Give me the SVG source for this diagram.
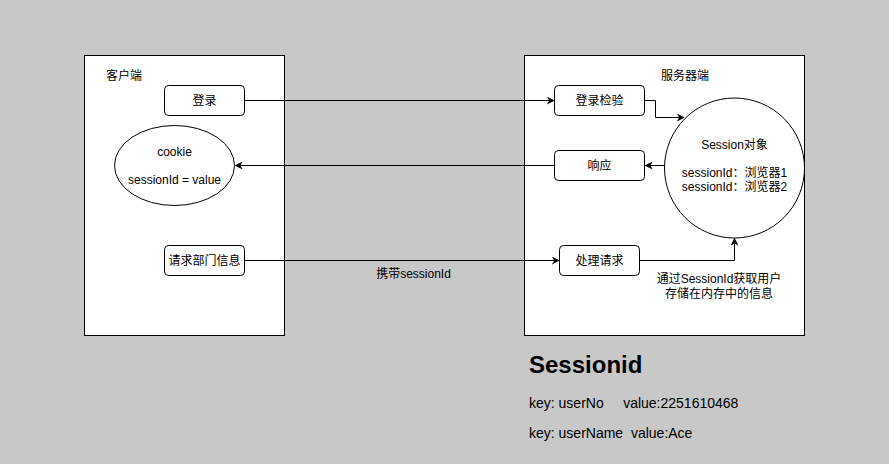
<svg xmlns="http://www.w3.org/2000/svg" width="889" height="464" viewBox="0 0 889 464">
<defs>
<marker id="arr" viewBox="0 0 10 10" refX="9" refY="5" markerWidth="8" markerHeight="8" markerUnits="userSpaceOnUse" orient="auto">
<path d="M0,0 L10,5 L0,10 L3,5 Z" fill="#000"/>
</marker>
<style>
.t{font-family:"Liberation Sans","Noto Sans CJK SC",Arial,sans-serif;font-size:12px;fill:#000}
.c{text-anchor:middle}
.box{fill:#fff;stroke:#000;stroke-width:1}
.e{fill:none;stroke:#000;stroke-width:1;marker-end:url(#arr)}
.k{font-family:"Liberation Sans",Arial,sans-serif;font-size:14px;fill:#000;white-space:pre}
</style>
</defs>
<rect x="0" y="0" width="889" height="464" fill="#c8c8c8"/>
<g id="client">
<rect class="box" x="84.5" y="55.5" width="200" height="280"/>
<text class="t" x="106" y="80">客户端</text>
</g>
<g id="server">
<rect class="box" x="524.5" y="55.5" width="280" height="280"/>
<text class="t c" x="685" y="80">服务器端</text>
</g>
<g id="login">
<rect class="box" x="164.5" y="85.5" width="80" height="30" rx="4"/>
<text class="t c" x="204.5" y="105">登录</text>
</g>
<g id="cookie">
<ellipse class="box" cx="174.5" cy="165.5" rx="60" ry="40"/>
<text class="t c" x="174.5" y="156">cookie</text>
<text class="t c" x="174.5" y="184">sessionId = value</text>
</g>
<g id="request">
<rect class="box" x="164.5" y="245.5" width="80" height="30" rx="4"/>
<text class="t c" x="204.5" y="265">请求部门信息</text>
</g>
<g id="check">
<rect class="box" x="554.5" y="85.5" width="90" height="30" rx="4"/>
<text class="t c" x="599.5" y="105">登录检验</text>
</g>
<g id="response">
<rect class="box" x="554.5" y="150.5" width="90" height="30" rx="4"/>
<text class="t c" x="599.5" y="170">响应</text>
</g>
<g id="handle">
<rect class="box" x="559.5" y="245.5" width="80" height="30" rx="4"/>
<text class="t c" x="599.5" y="265">处理请求</text>
</g>
<g id="session">
<circle class="box" cx="734.5" cy="168" r="70"/>
<text class="t c" x="734.5" y="149">Session对象</text>
<text class="t c" x="734.5" y="177">sessionId：浏览器1</text>
<text class="t c" x="734.5" y="191">sessionId：浏览器2</text>
</g>
<g id="connectors">
<path class="e" d="M244.5,100.5 H554"/>
<path class="e" d="M644.5,100.5 H655.5 V117.5 H684"/>
<path class="e" d="M664.5,165.5 H645.5"/>
<path class="e" d="M554.5,165.5 H235.5"/>
<path class="e" d="M244.5,260.5 H559"/>
<path class="e" d="M639.5,260.5 H734.5 V238.5"/>
<text class="t c" x="413.5" y="278">携带sessionId</text>
<text class="t c" x="719" y="283">通过SessionId获取用户</text>
<text class="t c" x="719" y="298">存储在内存中的信息</text>
</g>
<g id="note">
<text x="529" y="373" style="font-family:'Liberation Sans',Arial,sans-serif;font-size:24px;font-weight:bold;fill:#000">Sessionid</text>
<text class="k" x="529" y="408" xml:space="preserve">key: userNo     value:2251610468</text>
<text class="k" x="529" y="438" xml:space="preserve">key: userName  value:Ace</text>
</g>
</svg>
